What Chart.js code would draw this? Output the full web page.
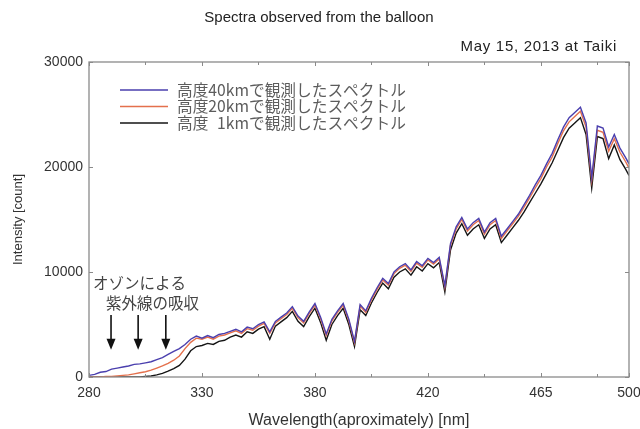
<!DOCTYPE html>
<html><head><meta charset="utf-8">
<script src="https://cdn.jsdelivr.net/npm/chart.js@4.4.1/dist/chart.umd.min.js"></script>
<style>html,body{margin:0;padding:0;background:#fff}#wrap{width:640px;height:429px}</style>
</head><body><div id="wrap"><canvas id="c" width="640" height="429"></canvas></div>
<script>
// Detector channel (x position along the spectrum)
const channels = [0,10,20,30,40,50,60,70,80,90,100,110,120,130,140,150,160,170,180,190,200,210,220,230,240,250,260,270,280,290,300,310,320,330,340,350,360,370,380,390,400,410,420,430,440,450,460,470,480,490,500,510,520,530,540,550,560,570,580,590,600,610,620,630,640,650,660,670,680,690,700,710,720,730,740,750,760,770,780,790,800,810,820,830,840,850,860,870,880,890,900,910,920,930,940,950,956];

const alt40km = [150,250,450,520,750,850,950,1050,1200,1250,1350,1450,1650,1850,2150,2450,2700,3100,3600,3900,3700,3950,3750,4050,4150,4350,4550,4300,4750,4600,5000,5250,4300,5300,5700,6100,6700,5800,5300,6200,7000,5700,4100,5500,6300,7000,5500,3400,6900,6300,7500,8500,9400,8900,10000,10500,10800,10200,11000,10600,11300,10900,11400,8700,12700,14300,15200,14100,14700,15100,13800,14700,15100,13400,14100,14800,15500,16400,17300,18300,19200,20300,21300,22600,23800,24700,25200,25700,24200,19000,23900,23700,21900,23100,21800,20900,20300];

const alt20km = [0,0,0,50,50,100,150,200,300,400,500,650,850,1050,1300,1600,2000,2700,3300,3700,3600,3800,3600,3900,4000,4200,4400,4150,4600,4450,4850,5100,4150,5150,5550,5950,6550,5650,5150,6050,6850,5550,3950,5350,6150,6850,5350,3250,6750,6150,7350,8350,9250,8750,9850,10350,10650,10050,10850,10450,11150,10750,11250,8550,12550,14100,15000,13900,14500,14900,13600,14500,14900,13200,13900,14600,15300,16150,17050,18000,18900,20000,20950,22250,23450,24300,24800,25300,23800,18700,23500,23300,21500,22700,21400,20500,19900];

const alt1km = [0,0,0,0,0,0,0,0,0,0,50,100,200,350,550,800,1100,1700,2500,2900,3000,3200,3100,3400,3500,3800,4000,3800,4300,4150,4550,4800,3600,4850,5250,5650,6250,5300,4800,5750,6550,5200,3500,5000,5850,6550,5000,2900,6400,5850,7050,8050,8950,8400,9500,10000,10300,9700,10500,10100,10800,10400,10900,8100,12100,13700,14600,13500,14100,14500,13200,14100,14500,12800,13500,14200,14900,15700,16600,17500,18400,19400,20400,21600,22800,23700,24200,24700,23100,18000,22900,22700,20800,22100,20700,19800,19200];

const seriesLabels = ['高度40kmで観測したスペクトル','高度20kmで観測したスペクトル','高度\u20071kmで観測したスペクトル'];

const majorTickChannels = [0,200,400,600,800,956];
const majorTickLabels = ['280','330','380','420','465','500'];
const minorTickChannels = [100,300,500,700,900];
const yTickValues = [0,10000,20000,30000];

const arrowChannels = [39,87,136];
const arrowFrom = 5900, arrowTo = 2600;
const noteLines = ['オゾンによる','紫外線の吸収'];

const titleText = 'Spectra observed from the balloon';
const subtitleText = 'May 15, 2013 at Taiki';

const SANS = '"Liberation Sans", Arial, sans-serif';
const CJK = '"Noto Sans CJK JP", "Liberation Sans", sans-serif';

const toXY = vals => vals.map((v,i)=>({x:channels[i], y:v}));

const frameTicks = {
  id:'frameTicks',
  afterDatasetsDraw(chart){
    const {ctx, chartArea:{left,right,top,bottom}, scales:{x,y}} = chart;
    ctx.save();
    ctx.strokeStyle = '#8a8a8a'; ctx.lineWidth = 1.3;
    ctx.strokeRect(left, top, right-left, bottom-top);
    ctx.lineWidth = 1;
    ctx.beginPath();
    majorTickChannels.forEach(v=>{const p=Math.round(x.getPixelForValue(v))+0.5;
      ctx.moveTo(p,bottom); ctx.lineTo(p,bottom-4); ctx.moveTo(p,top); ctx.lineTo(p,top+4);});
    minorTickChannels.forEach(v=>{const p=Math.round(x.getPixelForValue(v))+0.5;
      ctx.moveTo(p,bottom); ctx.lineTo(p,bottom-3); ctx.moveTo(p,top); ctx.lineTo(p,top+3);});
    yTickValues.forEach(v=>{const p=Math.round(y.getPixelForValue(v))+0.5;
      ctx.moveTo(left,p); ctx.lineTo(left+4,p); ctx.moveTo(right,p); ctx.lineTo(right-4,p);});
    ctx.stroke();
    ctx.restore();
  },
  afterDraw(chart){
    const {ctx, chartArea:{left,top}, scales:{x,y}} = chart;
    ctx.save();
    // titles
    ctx.fillStyle = '#222';
    ctx.font = '15px ' + SANS; ctx.textAlign='center'; ctx.textBaseline='middle';
    ctx.fillText(titleText, 319, 18);
    ctx.font = '15px ' + SANS; ctx.textAlign='right';
    ctx.letterSpacing = '0.7px';
    ctx.fillText(subtitleText, 617, 47);
    ctx.letterSpacing = '0px';
    // legend
    chart.data.datasets.forEach((ds,i)=>{
      const yy = top + 28 + i*16.5;
      ctx.strokeStyle = ds.borderColor; ctx.lineWidth = 1.6;
      ctx.beginPath(); ctx.moveTo(left+31, yy); ctx.lineTo(left+79, yy); ctx.stroke();
      ctx.fillStyle = '#5c5c5c'; ctx.font = '15.7px ' + CJK; ctx.textAlign='left'; ctx.textBaseline='middle';
      ctx.fillText(ds.label, left+88, yy);
    });
    // annotation
    ctx.fillStyle = '#444'; ctx.font = '15.5px ' + CJK; ctx.textAlign='left'; ctx.textBaseline='middle';
    ctx.fillText(noteLines[0], left+4, 283);
    ctx.fillText(noteLines[1], left+17, 303);
    ctx.strokeStyle = '#111'; ctx.fillStyle = '#111'; ctx.lineWidth = 1.6;
    arrowChannels.forEach(c=>{
      const px = x.getPixelForValue(c), y1 = y.getPixelForValue(arrowFrom), y2 = y.getPixelForValue(arrowTo);
      ctx.beginPath(); ctx.moveTo(px,y1); ctx.lineTo(px,y2-9); ctx.stroke();
      ctx.beginPath(); ctx.moveTo(px-4.5,y2-11); ctx.lineTo(px+4.5,y2-11); ctx.lineTo(px,y2); ctx.closePath(); ctx.fill();
    });
    ctx.restore();
  }
};

new Chart(document.getElementById('c'), {
  type:'line',
  data:{datasets:[
    {label:seriesLabels[0], data:toXY(alt40km), borderColor:'#4a3fae', borderWidth:1.4, pointRadius:0},
    {label:seriesLabels[1], data:toXY(alt20km), borderColor:'#e4704c', borderWidth:1.4, pointRadius:0},
    {label:seriesLabels[2], data:toXY(alt1km), borderColor:'#151515', borderWidth:1.4, pointRadius:0}
  ]},
  plugins:[frameTicks],
  options:{
    responsive:false, animation:false, devicePixelRatio:1,
    layout:{padding:{left:0,right:11,top:62,bottom:0}},
    plugins:{legend:{display:false}, title:{display:false}, tooltip:{enabled:false}},
    scales:{
      x:{type:'linear', min:0, max:956,
        afterBuildTicks:s=>{s.ticks = majorTickChannels.map(v=>({value:v}));},
        afterFit:s=>{s.height=52; s.paddingLeft=0; s.paddingRight=0;},
        grid:{display:false, drawTicks:false}, border:{display:false},
        ticks:{autoSkip:false, maxRotation:0, padding:8, color:'#333', font:{family:SANS, size:14},
          callback:(v)=>{const i=majorTickChannels.indexOf(v); return i>=0?majorTickLabels[i]:'';}},
        title:{display:true, text:'Wavelength(aproximately) [nm]', color:'#333', font:{family:SANS, size:16, lineHeight:1.0}, padding:{top:0,bottom:0}}
      },
      y:{type:'linear', min:0, max:30000,
        afterBuildTicks:s=>{s.ticks = yTickValues.map(v=>({value:v}));},
        afterFit:s=>{s.width=89; s.paddingTop=0; s.paddingBottom=0;},
        grid:{display:false, drawTicks:false}, border:{display:false},
        ticks:{padding:6, color:'#333', font:{family:SANS, size:14}, callback:v=>String(v)},
        title:{display:true, text:'Intensity [count]', color:'#333', font:{family:SANS, size:13}, padding:{top:11,bottom:0}}
      }
    }
  }
});
</script></body></html>
